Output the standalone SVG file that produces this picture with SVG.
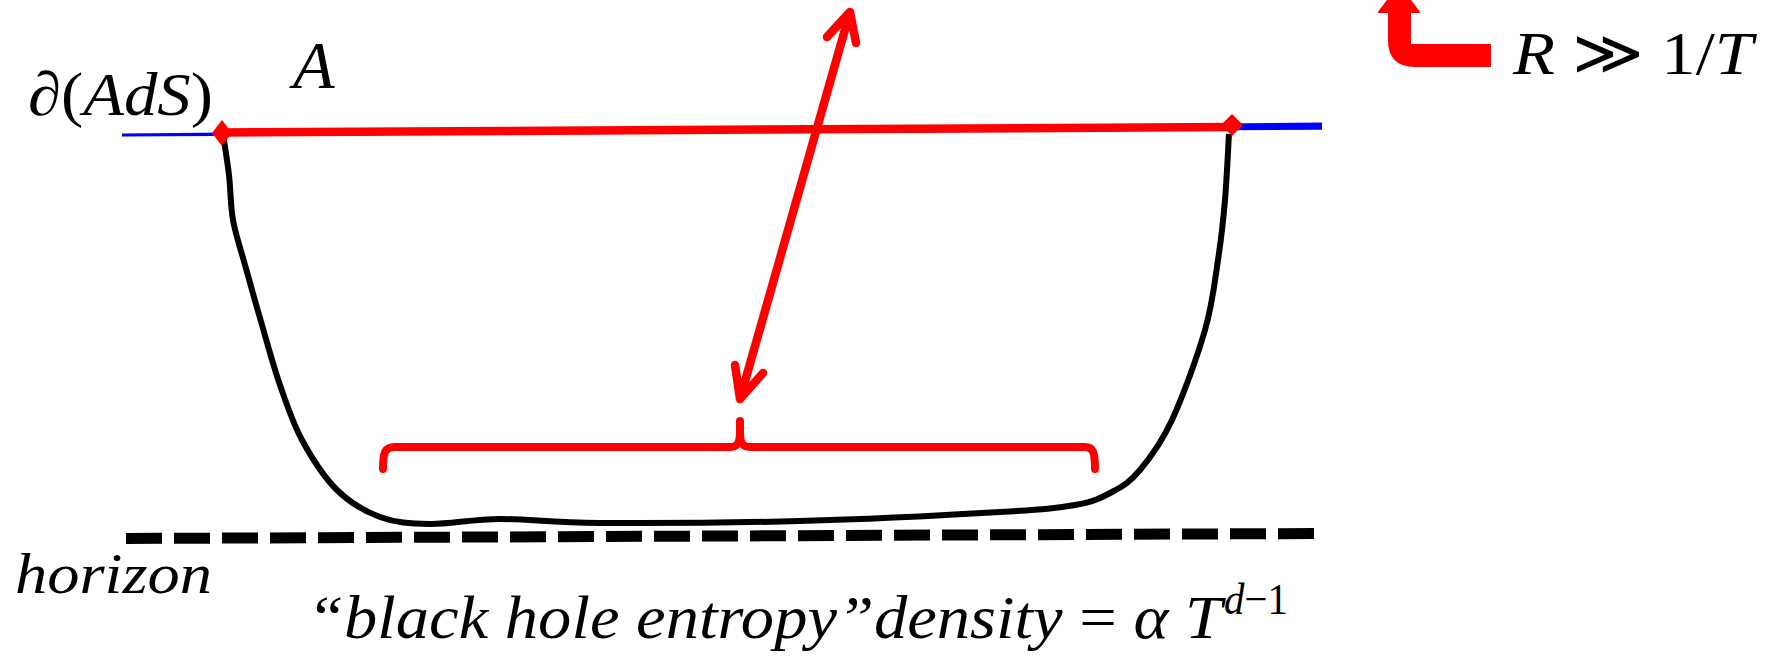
<svg xmlns="http://www.w3.org/2000/svg" width="1771" height="659" viewBox="0 0 1771 659">
<style>
.t{font-family:"Liberation Serif","Times New Roman",serif;fill:#000}
.i{font-style:italic}
.red{stroke:#ff0000;fill:none;stroke-linecap:round;stroke-linejoin:round}
</style>
<rect width="1771" height="659" fill="#fff"/>
<g id="boundary">
<polygon points="122,133.5 1322,122.5 1322,129.7 122,136.5" fill="#0000ff"/>
</g>
<g id="horizon">
<line x1="126" y1="538.5" x2="1315" y2="533.5" stroke="#000" stroke-width="11" stroke-dasharray="36 12"/>
</g>
<g id="surface">
<path d="M223,134 C224,140.8 227.3,160.7 229,175 C230.7,189.3 230.3,205 233,220 C235.7,235 240.2,247.5 245,265 C249.8,282.5 256.2,305 262,325 C267.8,345 273.3,365.8 280,385 C286.7,404.2 292.5,422.5 302,440 C311.5,457.5 324,477.2 337,490 C350,502.8 364.5,511.3 380,517 C395.5,522.7 410,523.7 430,524 C450,524.3 471.7,519.2 500,519 C528.3,518.8 550,522.7 600,523 C650,523.3 733.3,522.8 800,521 C866.7,519.2 954.2,514.7 1000,512 C1045.8,509.3 1056.3,508.3 1075,505 C1093.7,501.7 1101.2,497.8 1112,492 C1122.8,486.2 1130,482 1140,470 C1150,458 1161.2,443.3 1172,420 C1182.8,396.7 1197.3,356.7 1205,330 C1212.7,303.3 1214.7,281.7 1218,260 C1221.3,238.3 1223.2,221 1225,200 C1226.8,179 1228.3,145 1229,134" fill="none" stroke="#000" stroke-width="6" stroke-linejoin="round"/>
</g>
<g id="region-A">
<line x1="222" y1="132.5" x2="1232" y2="127" stroke="#ff0000" stroke-width="8.5"/>
<polygon points="222,120 232,133 222,146 212,133" fill="#ff0000"/>
<polygon points="1232,114 1243,125 1232,136 1221,125" fill="#ff0000"/>
</g>
<g id="connectors">
<path class="red" stroke-width="8.5" d="M850,12 L740,399 M827,37 L850,12 L856,43 M735,365 L740,399 L763,373"/>
<path class="red" stroke-width="8" d="M383,469 C383,452 385,447 395,447 L730,447 C737,447 740,444 740,432 L740,421 M740,432 C740,444 743,447 750,447 L1085,447 C1093,447 1095,452 1095,469"/>
<path d="M1490,45 L1410,45 L1410,12 L1419,12 L1399,-14 L1379,12 L1389,12 L1389,40 Q1389,66 1415,66 L1490,66 Z" fill="#ff0000" stroke="#ff0000" stroke-width="2" stroke-linejoin="round"/>
</g>
<g id="labels">
<text class="t" x="28" y="115" font-size="62" textLength="185" lengthAdjust="spacingAndGlyphs">∂(<tspan class="i">AdS</tspan>)</text>
<text class="t i" x="293" y="88" font-size="68">A</text>
<text class="t" x="1513" y="74" font-size="62" textLength="240" lengthAdjust="spacingAndGlyphs"><tspan class="i">R</tspan> ≫ 1/<tspan class="i">T</tspan></text>
<text class="t i" x="15" y="593" font-size="58" textLength="197" lengthAdjust="spacingAndGlyphs">horizon</text>
<text class="t i" x="307" y="638" font-size="62" textLength="915" lengthAdjust="spacingAndGlyphs">“black hole entropy”density <tspan font-style="normal">=</tspan> α T</text>
<text class="t" x="1224" y="614" font-size="44" textLength="64" lengthAdjust="spacingAndGlyphs"><tspan class="i">d</tspan>−1</text>
</g>
</svg>
